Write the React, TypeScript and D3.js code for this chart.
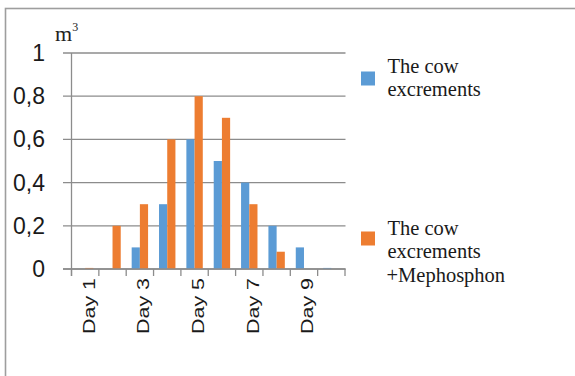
import React from "react";
import * as d3 from "d3";

const categories = ["Day 1", "Day 2", "Day 3", "Day 4", "Day 5", "Day 6", "Day 7", "Day 8", "Day 9", "Day 10"];
const cowValues = [0, 0, 0.1, 0.3, 0.6, 0.5, 0.4, 0.2, 0.1, 0.005];
const mephosphonValues = [0.005, 0.2, 0.3, 0.6, 0.8, 0.7, 0.3, 0.08, 0, 0];
const yTicks = [0, 0.2, 0.4, 0.6, 0.8, 1];
const seriesNames = ["cow", "meph"];

const W = 575;
const H = 376;
const BLUE = "#5B9BD5";
const ORANGE = "#ED7D31";
const GRID = "#8c8c8c";

export default function App() {
  const x = d3.scaleBand<string>().domain(categories).range([71.5, 345]).paddingInner(0).paddingOuter(0);
  const y = d3.scaleLinear().domain([0, 1]).range([269, 53]);
  // two bars per day fill the middle 60% of each band
  const groupOff = x.bandwidth() * 0.2;
  const inner = d3
    .scaleBand<string>()
    .domain(seriesNames)
    .range([0, x.bandwidth() * 0.6]);
  const barW = inner.bandwidth();

  const fmt = (v: number) => (v === 0 || v === 1 ? String(v) : String(v).replace(".", ","));
  const boundaries = d3.range(categories.length + 1).map((i) => 71.5 + i * x.bandwidth());

  return (
    <div style={{ position: "fixed", left: 0, top: 0 }}>
      <svg width={W} height={H} style={{ display: "block", background: "#fff" }}>
        <rect x={5.5} y={8.5} width={700} height={500} fill="#fff" stroke="#9e9e9e" strokeWidth={1.6} />

        {/* unit label */}
        <text x={55} y={41} fontFamily="'Liberation Serif', 'Times New Roman', serif" fontSize={22} fill="#222">
          m
          <tspan fontSize={12} dy={-10}>3</tspan>
        </text>

        {/* gridlines and y labels */}
        {yTicks.map((t) => (
          <g key={t}>
            <line x1={63} x2={345.5} y1={y(t)} y2={y(t)} stroke={GRID} strokeWidth={1.3} />
            <text
              x={45}
              y={y(t) + 2}
              textAnchor="end"
              dominantBaseline="middle"
              fontFamily="'Liberation Sans', Arial, sans-serif"
              fontSize={23}
              fill="#1a1a1a"
            >
              {fmt(t)}
            </text>
          </g>
        ))}

        {/* y axis line */}
        <line x1={71.5} x2={71.5} y1={y(1)} y2={276} stroke={GRID} strokeWidth={1.3} />

        {/* bars */}
        {categories.map((c, i) => (
          <g key={c}>
            <rect
              x={(x(c) as number) + groupOff + (inner("cow") as number)}
              y={y(cowValues[i])}
              width={barW}
              height={y(0) - y(cowValues[i])}
              fill={BLUE}
            />
            <rect
              x={(x(c) as number) + groupOff + (inner("meph") as number)}
              y={y(mephosphonValues[i])}
              width={barW}
              height={y(0) - y(mephosphonValues[i])}
              fill={ORANGE}
            />
          </g>
        ))}

        {/* x axis with ticks at category boundaries */}
        <line x1={63} x2={345.5} y1={y(0)} y2={y(0)} stroke={GRID} strokeWidth={1.3} />
        {boundaries.map((bx, i) => (
          <line key={i} x1={bx} x2={bx} y1={y(0)} y2={276} stroke={GRID} strokeWidth={1.3} />
        ))}

        {/* category labels, every other day */}
        {categories.map((c, i) =>
          i % 2 === 0 ? (
            <text
              key={c}
              transform={`translate(${(x(c) as number) + x.bandwidth() / 2 + 9.5},278) rotate(-90)`}
              textAnchor="end"
              fontFamily="'Liberation Sans', Arial, sans-serif"
              fontSize={17}
              textLength={56}
              lengthAdjust="spacingAndGlyphs"
              fill="#1a1a1a"
            >
              {c}
            </text>
          ) : null
        )}

        {/* legend */}
        <rect x={361} y={71.5} width={14} height={14} fill={BLUE} />
        <text fontFamily="'Liberation Serif', 'Times New Roman', serif" fontSize={20.5} fill="#1a1a1a">
          <tspan x={387.5} y={72.7}>The cow</tspan>
          <tspan x={387.5} y={95.5}>excrements</tspan>
        </text>
        <rect x={361} y={231.5} width={14} height={14} fill={ORANGE} />
        <text fontFamily="'Liberation Serif', 'Times New Roman', serif" fontSize={20.5} fill="#1a1a1a">
          <tspan x={387.5} y={235}>The cow</tspan>
          <tspan x={387.5} y={258.3}>excrements</tspan>
          <tspan x={386.5} y={281.7}>+Mephosphon</tspan>
        </text>
      </svg>
    </div>
  );
}
